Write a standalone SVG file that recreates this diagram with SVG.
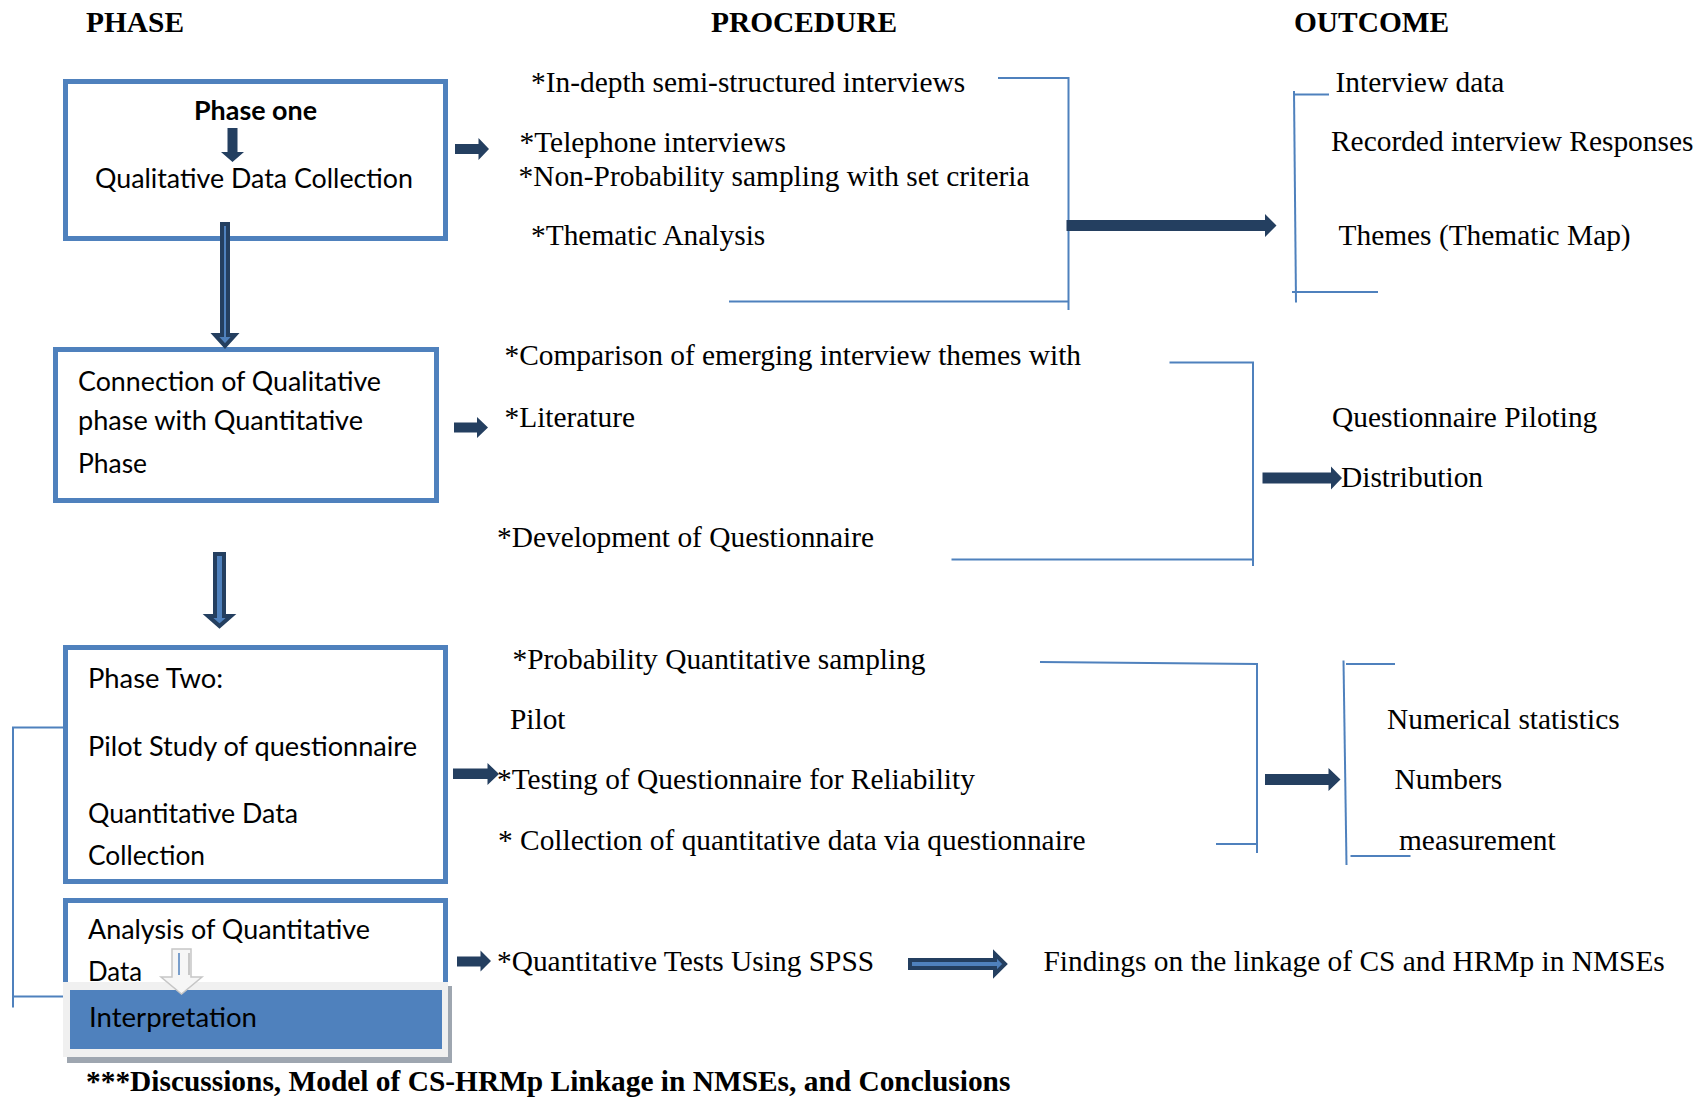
<svg xmlns="http://www.w3.org/2000/svg" width="1699" height="1098" viewBox="0 0 1699 1098">
  <style>
    .box { fill: #ffffff; stroke: #4F81BD; stroke-width: 5; }
    .br { fill: none; stroke: #4F81BD; stroke-width: 2; }
    .arr { fill: #243F60; }
    .arr2 { fill: #4F81BD; stroke: #243F60; stroke-width: 4; stroke-linejoin: miter; }
    .t { font-family: "Liberation Serif", "Times New Roman", serif; font-size: 29.4px; fill: #000; }
    .hd { font-weight: bold; }
    .s { font-family: Lato, "Open Sans", sans-serif; font-size: 26px; fill: #000; }
  </style>

  <!-- column headers -->
  <g id="headers">
    <text class="t hd" x="86" y="32">PHASE</text>
    <text class="t hd" x="711" y="32">PROCEDURE</text>
    <text class="t hd" x="1294" y="32">OUTCOME</text>
  </g>

  <!-- phase column -->
  <g id="phase-one">
    <rect class="box" x="65.5" y="81.5" width="380" height="157"/>
    <text class="s" x="194" y="120" font-weight="bold" textLength="123" lengthAdjust="spacingAndGlyphs">Phase one</text>
    <polygon class="arr" points="227.5,128 237.5,128 237.5,152 244,152 232.5,162 221,152 227.5,152"/>
    <text class="s" x="95" y="188" textLength="318" lengthAdjust="spacingAndGlyphs">Qualitative Data Collection</text>
  </g>

  <g id="connection-phase">
    <rect class="box" x="55.5" y="349.5" width="381" height="151"/>
    <text class="s" x="78" y="391" textLength="303" lengthAdjust="spacingAndGlyphs">Connection of Qualitative</text>
    <text class="s" x="78" y="430" textLength="285" lengthAdjust="spacingAndGlyphs">phase with Quantitative</text>
    <text class="s" x="78" y="473" textLength="69" lengthAdjust="spacingAndGlyphs">Phase</text>
  </g>

  <g id="phase-two">
    <rect class="box" x="65.5" y="647.5" width="380" height="234"/>
    <text class="s" x="88" y="688" textLength="135" lengthAdjust="spacingAndGlyphs">Phase Two:</text>
    <text class="s" x="88" y="756" textLength="329" lengthAdjust="spacingAndGlyphs">Pilot Study of questionnaire</text>
    <text class="s" x="88" y="823" textLength="210" lengthAdjust="spacingAndGlyphs">Quantitative Data</text>
    <text class="s" x="88" y="865" textLength="117" lengthAdjust="spacingAndGlyphs">Collection</text>
  </g>

  <g id="analysis">
    <rect class="box" x="65.5" y="900.5" width="380" height="100"/>
    <text class="s" x="88" y="939" textLength="282" lengthAdjust="spacingAndGlyphs">Analysis of Quantitative</text>
    <text class="s" x="88" y="981" textLength="54" lengthAdjust="spacingAndGlyphs">Data</text>
  </g>

  <g id="interpretation">
    <rect x="67" y="986" width="385" height="77" fill="#9ea6b0"/>
    <rect x="63" y="982" width="385" height="75" fill="#f0f0f0"/>
    <rect x="70" y="990" width="372" height="59" fill="#4F81BD"/>
    <text class="s" x="89" y="1027" textLength="168" lengthAdjust="spacingAndGlyphs">Interpretation</text>
  </g>

  <!-- hollow arrow from analysis into interpretation -->
  <g id="analysis-arrow">
    <polygon points="172,949 191,949 191,977 202,977 181.5,994 161,977 172,977" fill="#f6f6f6" stroke="#c6c6c6" stroke-width="1.5"/>
    <line x1="179" y1="953" x2="179" y2="975" stroke="#4F81BD" stroke-width="1.5"/>
    <line x1="189" y1="953" x2="189" y2="975" stroke="#b8b8b8" stroke-width="1.5"/>
  </g>

  <!-- procedure column -->
  <g id="procedure-1">
    <text class="t" x="531" y="92">*In-depth semi-structured interviews</text>
    <text class="t" x="519.5" y="152">*Telephone interviews</text>
    <text class="t" x="518.5" y="186">*Non-Probability sampling with set criteria</text>
    <text class="t" x="531" y="245">*Thematic Analysis</text>
  </g>
  <g id="procedure-2">
    <text class="t" x="504.5" y="365">*Comparison of emerging interview themes with</text>
    <text class="t" x="504.5" y="426.5">*Literature</text>
    <text class="t" x="497" y="546.5">*Development of Questionnaire</text>
  </g>
  <g id="procedure-3">
    <text class="t" x="512.5" y="668.5">*Probability Quantitative sampling</text>
    <text class="t" x="510" y="729">Pilot</text>
    <text class="t" x="497" y="789">*Testing of Questionnaire for Reliability</text>
    <text class="t" x="498" y="850">* Collection of quantitative data via questionnaire</text>
  </g>
  <g id="procedure-4">
    <text class="t" x="497" y="971">*Quantitative Tests Using SPSS</text>
  </g>

  <!-- outcome column -->
  <g id="outcome-1">
    <text class="t" x="1335.5" y="92">Interview data</text>
    <text class="t" x="1331" y="151">Recorded interview Responses</text>
    <text class="t" x="1338.5" y="245">Themes (Thematic Map)</text>
  </g>
  <g id="outcome-2">
    <text class="t" x="1332" y="427">Questionnaire Piloting</text>
    <text class="t" x="1341" y="486.5">Distribution</text>
  </g>
  <g id="outcome-3">
    <text class="t" x="1387" y="729">Numerical statistics</text>
    <text class="t" x="1394.5" y="789">Numbers</text>
    <text class="t" x="1399" y="850">measurement</text>
  </g>
  <g id="outcome-4">
    <text class="t" x="1043.5" y="971">Findings on the linkage of CS and HRMp in NMSEs</text>
  </g>

  <g id="footer">
    <text class="t hd" x="86" y="1091">***Discussions, Model of CS-HRMp Linkage in NMSEs, and Conclusions</text>
  </g>

  <!-- connectors: brackets and arrows -->
  <g id="connectors">
    <!-- brackets -->
    <polyline class="br" points="998,78 1068.5,78 1068.5,310"/>
    <line class="br" x1="729" y1="301.5" x2="1068.5" y2="301.5"/>
    <line class="br" x1="1294" y1="91" x2="1296" y2="302.5"/>
    <line class="br" x1="1294" y1="94.5" x2="1329" y2="94.5"/>
    <line class="br" x1="1292" y1="292" x2="1378" y2="292"/>

    <polyline class="br" points="1169.5,362.5 1253,362.5 1253,566"/>
    <line class="br" x1="951.5" y1="559.5" x2="1253" y2="559.5"/>

    <polyline class="br" points="1040,662 1257,664 1257,853"/>
    <line class="br" x1="1216" y1="844" x2="1257" y2="844"/>
    <line class="br" x1="1343.5" y1="660.5" x2="1346.5" y2="865"/>
    <line class="br" x1="1346" y1="664" x2="1395" y2="664"/>
    <line class="br" x1="1350.5" y1="856" x2="1410.5" y2="856"/>

    <polyline class="br" points="63,727.5 13,727.5 13,1007.5"/>
    <line class="br" x1="13" y1="996.5" x2="63" y2="996.5"/>

    <!-- phase to phase arrows -->
    <polygon class="arr2" points="222,224 228,224 228,335 235,335 225,346 215,335 222,335"/>
    <polygon class="arr2" points="215,554 224,554 224,616 231,616 219.5,626 208,616 215,616"/>

    <!-- phase to procedure arrows -->
    <polygon class="arr" points="455,144 478.5,144 478.5,138 489,149 478.5,160 478.5,154 455,154"/>
    <polygon class="arr" points="454,422.5 477,422.5 477,417 488,427.5 477,438 477,432.5 454,432.5"/>
    <polygon class="arr" points="453,768.5 487.5,768.5 487.5,763 499,774 487.5,785 487.5,779 453,779"/>
    <polygon class="arr" points="457,956.5 480.5,956.5 480.5,950.5 491,961 480.5,971.5 480.5,966.5 457,966.5"/>

    <!-- procedure to outcome arrows -->
    <polygon class="arr" points="1066.5,220 1265,220 1265,214 1276.5,225.5 1265,237 1265,231 1066.5,231"/>
    <polygon class="arr" points="1262.5,472.5 1331,472.5 1331,466.5 1342,478 1331,489.5 1331,483.5 1262.5,483.5"/>
    <polygon class="arr" points="1265,774 1328.5,774 1328.5,768 1340.5,779.5 1328.5,791 1328.5,785 1265,785"/>
    <polygon class="arr2" points="910,960 995,960 995,954 1005,964 995,974 995,968 910,968"/>
  </g>
</svg>
